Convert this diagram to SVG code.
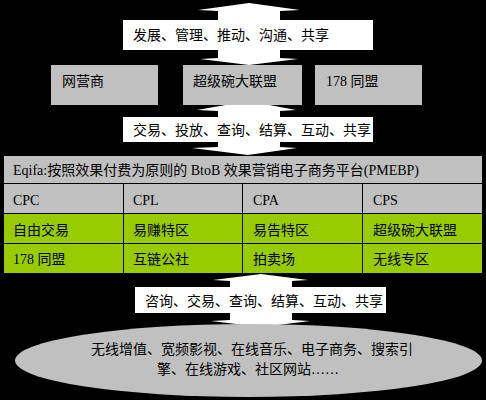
<svg xmlns="http://www.w3.org/2000/svg" width="486" height="400" viewBox="0 0 486 400">
<style>
text{font-family:"Liberation Serif","Noto Sans CJK SC",serif;font-size:14px;fill:#000}
.arrow{fill:#fff}
.label{fill:#fff}
.gray{fill:#c0c0c0}
.green{fill:#99cc00}
.cell{stroke:#000;stroke-width:1}
</style>
<rect x="0" y="0" width="486" height="400" fill="#000"/>
<g id="connectors">
<polygon class="arrow" points="249,3 300,10 280,11 280,58 298,59 249,65 200,59 218,58 218,11 198,10"/>
<polygon class="arrow" points="248,101 296,110 280,111 280,147 297,148 248,155 192,148 218,147 218,111 197,110"/>
<polygon class="arrow" points="261,274 308,280 292,281 292,320 310,321 261,327 211,321 230,320 230,281 213,280"/>
</g>
<g id="label-top"><rect class="label" x="123" y="20" width="250" height="30"/><text x="133" y="40">发展、管理、推动、沟通、共享</text></g>
<g id="node-wangyingshang"><rect class="gray" x="51" y="65" width="107" height="40"/><text x="62" y="86">网营商</text></g>
<g id="node-chaoji"><rect class="gray" x="183" y="65" width="119" height="40"/><text x="193" y="86">超级碗大联盟</text></g>
<g id="node-178"><rect class="gray" x="315" y="65" width="107" height="40"/><text x="326" y="86">178 同盟</text></g>
<g id="label-mid"><rect class="label" x="123" y="117" width="250" height="25"/><text x="133" y="135">交易、投放、查询、结算、互动、共享</text></g>
<g id="platform">
<rect class="gray cell" x="3.5" y="155.5" width="479" height="28"/>
<text x="13" y="175">Eqifa:按照效果付费为原则的 BtoB 效果营销电子商务平台(PMEBP)</text>
<rect class="gray cell" x="3.5" y="183.5" width="120" height="30"/>
<rect class="gray cell" x="123.5" y="183.5" width="119" height="30"/>
<rect class="gray cell" x="242.5" y="183.5" width="120" height="30"/>
<rect class="gray cell" x="362.5" y="183.5" width="120" height="30"/>
<text x="13" y="205">CPC</text><text x="133" y="205">CPL</text><text x="253" y="205">CPA</text><text x="373" y="205">CPS</text>
<rect class="green cell" x="3.5" y="213.5" width="120" height="30"/>
<rect class="green cell" x="123.5" y="213.5" width="119" height="30"/>
<rect class="green cell" x="242.5" y="213.5" width="120" height="30"/>
<rect class="green cell" x="362.5" y="213.5" width="120" height="30"/>
<text x="13" y="235">自由交易</text><text x="133" y="235">易赚特区</text><text x="253" y="235">易告特区</text><text x="373" y="235">超级碗大联盟</text>
<rect class="green cell" x="3.5" y="243.5" width="120" height="30"/>
<rect class="green cell" x="123.5" y="243.5" width="119" height="30"/>
<rect class="green cell" x="242.5" y="243.5" width="120" height="30"/>
<rect class="green cell" x="362.5" y="243.5" width="120" height="30"/>
<text x="13" y="264">178 同盟</text><text x="133" y="264">互链公社</text><text x="253" y="264">拍卖场</text><text x="373" y="264">无线专区</text>
</g>
<g id="label-bottom"><rect class="label" x="135" y="287" width="251" height="26"/><text x="145" y="306">咨询、交易、查询、结算、互动、共享</text></g>
<g id="node-services">
<ellipse class="gray" cx="248.5" cy="360.5" rx="233.5" ry="36.5"/>
<text x="91" y="354">无线增值、宽频影视、在线音乐、电子商务、搜索引</text>
<text x="157" y="374">擎、在线游戏、社区网站……</text>
</g>
</svg>
